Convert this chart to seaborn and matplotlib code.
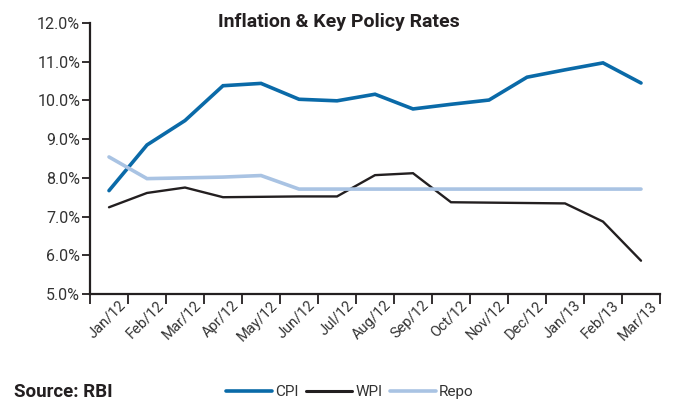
import numpy as np
import pandas as pd
import seaborn as sns
import matplotlib.pyplot as plt
from matplotlib.ticker import FixedLocator, FuncFormatter
import matplotlib.transforms as mtransforms

# Dados
meses = ['Jan/12', 'Feb/12', 'Mar/12', 'Apr/12', 'May/12', 'Jun/12', 'Jul/12', 'Aug/12',
         'Sep/12', 'Oct/12', 'Nov/12', 'Dec/12', 'Jan/13', 'Feb/13', 'Mar/13']
cpi = [7.67, 8.85, 9.48, 10.38, 10.44, 10.03, 9.99, 10.16, 9.78, 9.90, 10.01, 10.60, 10.79, 10.97, 10.45]
wpi = [7.24, 7.61, 7.75, 7.50, 7.51, 7.52, 7.52, 8.07, 8.12, 7.37, 7.36, 7.35, 7.34, 6.87, 5.86]
repo = [8.54, 7.98, 8.00, 8.02, 8.06, 7.71, 7.71, 7.71, 7.71, 7.71, 7.71, 7.71, 7.71, 7.71, 7.71]
series_names = ['CPI', 'WPI', 'Repo']
cores = {'CPI': '#0a6aa8', 'WPI': '#231f20', 'Repo': '#a9c3e3'}
larguras = {'CPI': 2.6, 'WPI': 1.7, 'Repo': 2.6}

df = pd.DataFrame({'mes': np.arange(len(meses)), 'CPI': cpi, 'WPI': wpi, 'Repo': repo})
df_long = df.melt(id_vars='mes', value_vars=series_names, var_name='serie', value_name='taxa')

sns.set_style("white")
plt.rcParams['font.family'] = ['Roboto', 'DejaVu Sans']
texto = '#333333'

fig = plt.figure(figsize=(6.73, 4.03), dpi=100)
ax = fig.add_axes([90 / 673, 1 - 294 / 403, 570 / 673, 271 / 403])

sns.lineplot(data=df_long, x='mes', y='taxa', hue='serie', hue_order=series_names,
             palette=cores, ax=ax, legend=False)
for linha, nome in zip(ax.get_lines(), series_names):
    linha.set_linewidth(larguras[nome])
    linha.set_solid_joinstyle('miter')

# Eixo X: marcas nos limites, rótulos nos centros
ax.set_xlim(-0.5, len(meses) - 0.5)
ax.xaxis.set_major_locator(FixedLocator(np.arange(-0.5, len(meses), 1.0)))
ax.xaxis.set_major_formatter(FuncFormatter(lambda v, p: ''))
ax.xaxis.set_minor_locator(FixedLocator(np.arange(len(meses))))
ax.set_xticklabels(meses, minor=True)
ax.tick_params(axis='x', which='major', direction='out', length=7, width=1.3, color='#231f20', bottom=True)
ax.tick_params(axis='x', which='minor', length=0, pad=3, labelsize=10.5, labelcolor=texto)
offset = mtransforms.ScaledTranslation(9 / 100, 0, fig.dpi_scale_trans)
for lbl in ax.get_xticklabels(minor=True):
    lbl.set_rotation(45)
    lbl.set_ha('right')
    lbl.set_va('top')
    lbl.set_rotation_mode('anchor')
    lbl.set_transform(lbl.get_transform() + offset)

# Eixo Y
ax.set_ylim(5, 12)
ax.set_yticks(np.arange(5, 12.01, 1))
ax.yaxis.set_major_formatter(FuncFormatter(lambda v, p: f'{v:.1f}%'))
ax.tick_params(axis='y', direction='out', length=6, width=1.3, color='#231f20',
               labelsize=11.5, labelcolor=texto, pad=1, left=True)
ax.set_xlabel('')
ax.set_ylabel('')

for lado in ['top', 'right']:
    ax.spines[lado].set_visible(False)
for lado in ['left', 'bottom']:
    ax.spines[lado].set_color('#231f20')
    ax.spines[lado].set_linewidth(1.6)

fig.text(339 / 673, 1 - 22 / 403, 'Inflation & Key Policy Rates', ha='center', va='center',
         fontsize=14, fontweight='bold', color='#231f20')
fig.text(14 / 673, 1 - 392 / 403, 'Source: RBI', ha='left', va='center',
         fontsize=13.5, fontweight='bold', color='#231f20')

handles = [plt.Line2D([], [], color=cores[n], lw=larguras[n] if n != 'WPI' else 2.2) for n in series_names]
fig.legend(handles, series_names, loc='center', bbox_to_anchor=(350 / 673, 1 - 392 / 403),
           ncol=3, frameon=False, fontsize=11, handlelength=3.0, handletextpad=0.2,
           columnspacing=0.5, labelcolor=texto)

plt.savefig('out.png', dpi=100)
